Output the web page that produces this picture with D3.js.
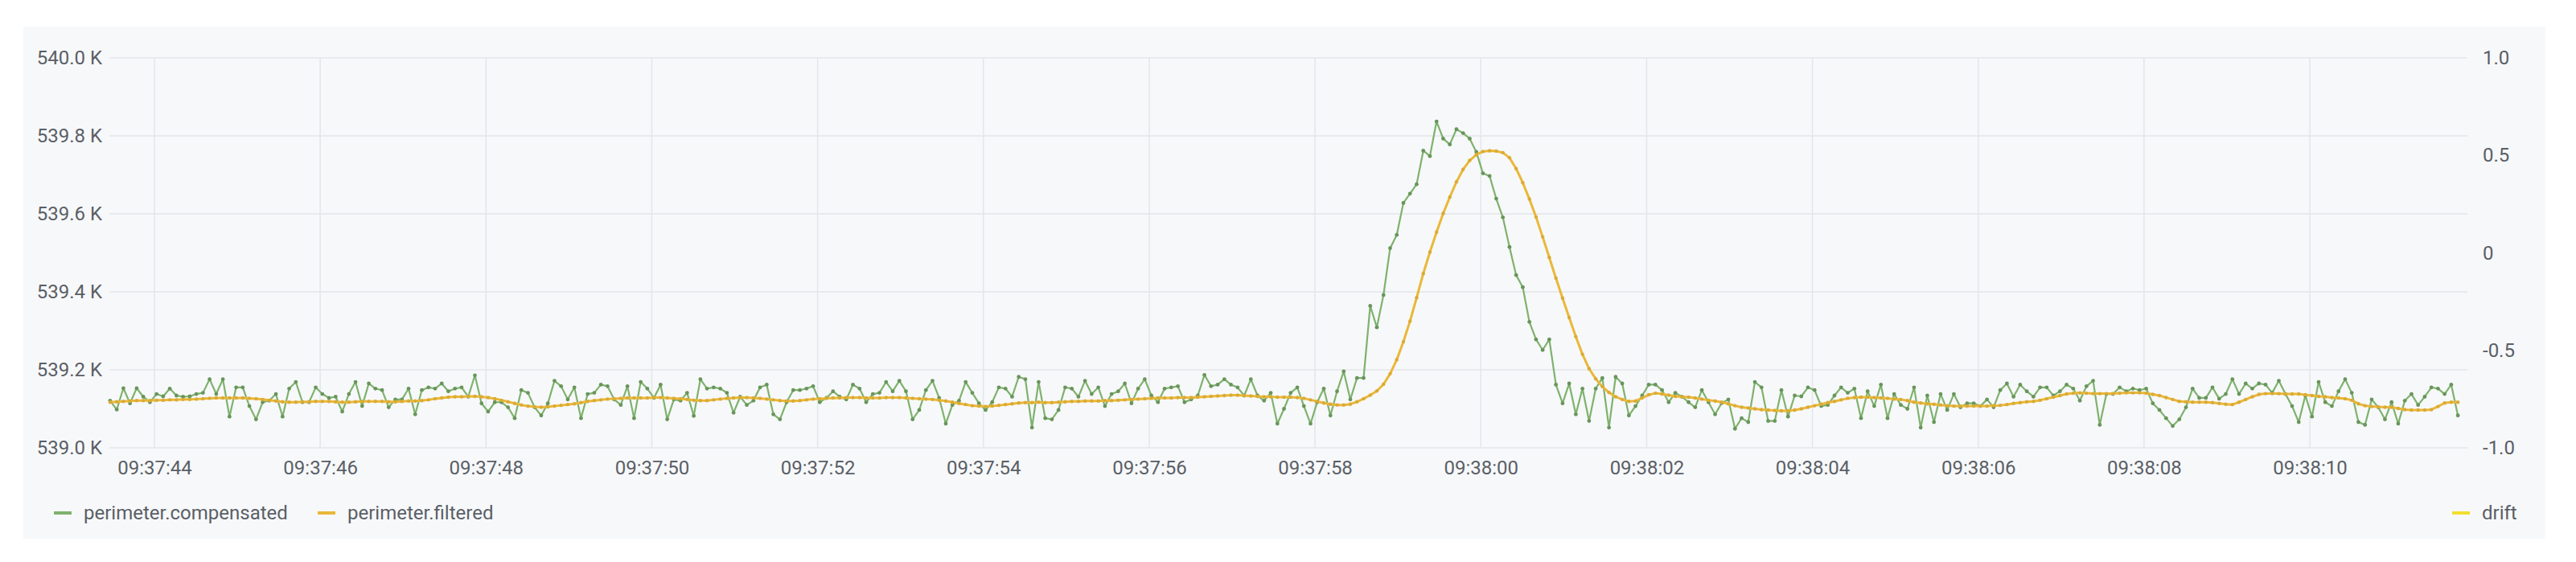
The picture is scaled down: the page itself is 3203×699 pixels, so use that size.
<!DOCTYPE html>
<html>
<head>
<meta charset="utf-8">
<script src="https://cdn.jsdelivr.net/npm/d3@7"></script>
<style>
    html, body { margin: 0; padding: 0; background: #ffffff; }
    svg text { font-family: Roboto, "Helvetica Neue", Arial, sans-serif; font-size: 24px; fill: #5a5f66; }
</style>
</head>
<body>
<div id="chart-container"></div>
<script>
// series samples (K), one every 80 ms starting 09:37:43.466
const startTime = new Date(2024, 0, 1, 9, 37, 43, 466);
const sampleMs = 80;

const compensated = [
    539.121, 539.098, 539.153, 539.114, 539.153, 539.131, 539.117, 539.138, 539.132, 539.152,
    539.134, 539.131, 539.132, 539.138, 539.141, 539.176, 539.138, 539.176, 539.080, 539.155,
    539.155, 539.107, 539.073, 539.117, 539.121, 539.138, 539.080, 539.152, 539.169, 539.117,
    539.117, 539.155, 539.138, 539.128, 539.131, 539.093, 539.138, 539.169, 539.107, 539.165,
    539.152, 539.148, 539.104, 539.124, 539.124, 539.152, 539.086, 539.148, 539.155, 539.152,
    539.165, 539.145, 539.152, 539.155, 539.131, 539.186, 539.114, 539.093, 539.117, 539.117,
    539.104, 539.076, 539.148, 539.141, 539.104, 539.083, 539.114, 539.172, 539.158, 539.124,
    539.155, 539.076, 539.138, 539.141, 539.162, 539.158, 539.124, 539.110, 539.158, 539.076,
    539.169, 539.152, 539.128, 539.162, 539.073, 539.124, 539.121, 539.141, 539.082, 539.176,
    539.152, 539.155, 539.152, 539.141, 539.090, 539.131, 539.110, 539.121, 539.155, 539.162,
    539.086, 539.073, 539.117, 539.148, 539.148, 539.152, 539.158, 539.117, 539.128, 539.145,
    539.131, 539.124, 539.162, 539.152, 539.117, 539.138, 539.141, 539.169, 539.145, 539.172,
    539.145, 539.073, 539.097, 539.148, 539.172, 539.128, 539.062, 539.110, 539.121, 539.169,
    539.141, 539.114, 539.097, 539.117, 539.155, 539.152, 539.131, 539.182, 539.176, 539.052,
    539.169, 539.076, 539.073, 539.097, 539.155, 539.152, 539.131, 539.172, 539.138, 539.155,
    539.107, 539.138, 539.145, 539.165, 539.114, 539.152, 539.176, 539.134, 539.117, 539.152,
    539.155, 539.158, 539.117, 539.124, 539.134, 539.187, 539.158, 539.162, 539.176, 539.162,
    539.155, 539.134, 539.176, 539.134, 539.121, 539.141, 539.062, 539.100, 539.141, 539.155,
    539.107, 539.062, 539.117, 539.152, 539.083, 539.145, 539.196, 539.124, 539.179, 539.179,
    539.364, 539.309, 539.392, 539.512, 539.546, 539.628, 539.652, 539.676, 539.762, 539.748,
    539.837, 539.793, 539.778, 539.817, 539.807, 539.793, 539.759, 539.704, 539.697, 539.639,
    539.591, 539.515, 539.443, 539.412, 539.323, 539.278, 539.251, 539.278, 539.162, 539.114,
    539.165, 539.086, 539.152, 539.069, 539.152, 539.179, 539.052, 539.182, 539.165, 539.083,
    539.107, 539.134, 539.162, 539.162, 539.148, 539.117, 539.141, 539.131, 539.117, 539.104,
    539.148, 539.117, 539.086, 539.115, 539.124, 539.049, 539.076, 539.066, 539.169, 539.155,
    539.069, 539.069, 539.148, 539.080, 539.134, 539.132, 539.155, 539.148, 539.107, 539.110,
    539.134, 539.155, 539.141, 539.152, 539.076, 539.145, 539.107, 539.162, 539.076, 539.138,
    539.110, 539.100, 539.155, 539.052, 539.134, 539.066, 539.138, 539.097, 539.138, 539.104,
    539.114, 539.114, 539.107, 539.124, 539.104, 539.148, 539.165, 539.131, 539.162, 539.145,
    539.131, 539.155, 539.155, 539.134, 539.145, 539.162, 539.152, 539.121, 539.158, 539.172,
    539.059, 539.138, 539.138, 539.155, 539.145, 539.152, 539.148, 539.152, 539.114, 539.097,
    539.076, 539.056, 539.073, 539.104, 539.152, 539.128, 539.128, 539.155, 539.126, 539.138,
    539.176, 539.138, 539.165, 539.152, 539.165, 539.162, 539.141, 539.172, 539.138, 539.107,
    539.066, 539.134, 539.080, 539.169, 539.117, 539.107, 539.145, 539.176, 539.141, 539.066,
    539.059, 539.124, 539.104, 539.073, 539.117, 539.062, 539.121, 539.138, 539.110, 539.131,
    539.155, 539.152, 539.138, 539.162, 539.083
];

const filtered = [
    539.117, 539.118, 539.119, 539.120, 539.121, 539.121, 539.121, 539.122, 539.122, 539.123,
    539.123, 539.124, 539.124, 539.125, 539.126, 539.127, 539.128, 539.128, 539.128, 539.128,
    539.128, 539.127, 539.126, 539.124, 539.122, 539.120, 539.118, 539.117, 539.117, 539.118,
    539.118, 539.119, 539.119, 539.119, 539.118, 539.117, 539.117, 539.118, 539.119, 539.119,
    539.119, 539.119, 539.118, 539.118, 539.119, 539.120, 539.120, 539.121, 539.123, 539.126,
    539.128, 539.130, 539.131, 539.131, 539.132, 539.132, 539.131, 539.129, 539.126, 539.122,
    539.118, 539.114, 539.110, 539.107, 539.105, 539.104, 539.105, 539.107, 539.109, 539.111,
    539.113, 539.116, 539.119, 539.121, 539.123, 539.125, 539.126, 539.127, 539.128, 539.128,
    539.128, 539.128, 539.129, 539.129, 539.128, 539.127, 539.126, 539.124, 539.122, 539.121,
    539.121, 539.123, 539.125, 539.127, 539.128, 539.129, 539.129, 539.128, 539.127, 539.125,
    539.123, 539.121, 539.120, 539.120, 539.121, 539.123, 539.125, 539.126, 539.127, 539.128,
    539.128, 539.129, 539.129, 539.129, 539.128, 539.128, 539.128, 539.129, 539.129, 539.129,
    539.128, 539.127, 539.126, 539.125, 539.124, 539.122, 539.120, 539.117, 539.114, 539.111,
    539.108, 539.107, 539.106, 539.107, 539.109, 539.111, 539.113, 539.115, 539.116, 539.116,
    539.117, 539.116, 539.116, 539.117, 539.118, 539.119, 539.119, 539.120, 539.120, 539.120,
    539.121, 539.121, 539.122, 539.123, 539.124, 539.125, 539.126, 539.127, 539.128, 539.128,
    539.128, 539.129, 539.129, 539.129, 539.130, 539.131, 539.132, 539.133, 539.134, 539.135,
    539.135, 539.134, 539.133, 539.132, 539.131, 539.131, 539.130, 539.130, 539.130, 539.129,
    539.127, 539.123, 539.119, 539.115, 539.112, 539.110, 539.110, 539.112, 539.118, 539.126,
    539.135, 539.146, 539.163, 539.190, 539.226, 539.272, 539.325, 539.385, 539.447, 539.502,
    539.553, 539.601, 539.643, 539.682, 539.714, 539.737, 539.752, 539.760, 539.762, 539.761,
    539.757, 539.744, 539.716, 539.680, 539.638, 539.592, 539.541, 539.488, 539.435, 539.384,
    539.334, 539.285, 539.240, 539.203, 539.177, 539.157, 539.142, 539.131, 539.124, 539.119,
    539.120, 539.128, 539.136, 539.140, 539.138, 539.135, 539.132, 539.131, 539.130, 539.128,
    539.125, 539.122, 539.120, 539.117, 539.113, 539.108, 539.104, 539.102, 539.100, 539.098,
    539.097, 539.096, 539.095, 539.095, 539.097, 539.100, 539.104, 539.108, 539.112, 539.116,
    539.119, 539.123, 539.127, 539.129, 539.130, 539.130, 539.129, 539.128, 539.127, 539.125,
    539.124, 539.121, 539.117, 539.115, 539.113, 539.112, 539.110, 539.108, 539.107, 539.107,
    539.107, 539.107, 539.107, 539.107, 539.108, 539.109, 539.111, 539.114, 539.116, 539.118,
    539.119, 539.122, 539.126, 539.130, 539.134, 539.138, 539.140, 539.141, 539.140, 539.139,
    539.139, 539.139, 539.139, 539.140, 539.141, 539.141, 539.141, 539.140, 539.137, 539.134,
    539.129, 539.124, 539.119, 539.118, 539.117, 539.117, 539.117, 539.116, 539.114, 539.112,
    539.111, 539.117, 539.124, 539.131, 539.137, 539.139, 539.139, 539.139, 539.138, 539.138,
    539.138, 539.136, 539.134, 539.132, 539.131, 539.129, 539.128, 539.126, 539.122, 539.113,
    539.108, 539.106, 539.105, 539.104, 539.104, 539.101, 539.098, 539.097, 539.097, 539.097,
    539.098, 539.106, 539.115, 539.117, 539.117
];

const drift = []; // right-axis series, no visible samples

const leftTicks = [539.0, 539.2, 539.4, 539.6, 539.8, 540.0];
const rightTicks = [-1, -0.5, 0, 0.5, 1];
const rightTickLabels = ["-1.0", "-0.5", "0", "0.5", "1.0"];
const seriesNames = ["perimeter.compensated", "perimeter.filtered", "drift"];
const seriesColors = ["#7eb26d", "#eab839", "#f2de2e"];

class TimeSeriesPanel {
    constructor() {
        this.container = d3.select("#chart-container");
        this.width = 3203;
        this.height = 699;
        this.plot = {left: 136, right: 3068, top: 72, bottom: 557};

        this.init();
        this.render();
    }

    init() {
        this.svg = this.container.append("svg")
            .attr("width", this.width)
            .attr("height", this.height);

        // panel background
        this.svg.append("rect")
            .attr("x", 29)
            .attr("y", 33)
            .attr("width", 3136)
            .attr("height", 637)
            .attr("fill", "#f7f8fa");

        this.xScale = d3.scaleTime()
            .domain([new Date(2024, 0, 1, 9, 37, 43, 457), new Date(2024, 0, 1, 9, 38, 11, 901)])
            .range([this.plot.left, this.plot.right]);

        this.yScale = d3.scaleLinear()
            .domain([539.0, 540.0])
            .range([this.plot.bottom, this.plot.top]);

        this.y2Scale = d3.scaleLinear()
            .domain([-1, 1])
            .range([this.plot.bottom, this.plot.top]);
    }

    render() {
        const p = this.plot;
        const xTicks = this.xScale.ticks(d3.timeSecond.every(2));

        // grid
        const grid = this.svg.append("g").attr("class", "grid");
        grid.selectAll(".hgrid")
            .data(leftTicks)
            .enter().append("line")
            .attr("x1", p.left)
            .attr("x2", p.right)
            .attr("y1", d => this.yScale(d))
            .attr("y2", d => this.yScale(d))
            .attr("stroke", "#e3e6ea")
            .attr("stroke-width", 1.5);
        grid.selectAll(".vgrid")
            .data(xTicks)
            .enter().append("line")
            .attr("x1", d => this.xScale(d))
            .attr("x2", d => this.xScale(d))
            .attr("y1", p.top)
            .attr("y2", p.bottom)
            .attr("stroke", "#e3e6ea")
            .attr("stroke-width", 1.5);

        // axes
        const xAxis = this.svg.append("g")
            .attr("transform", `translate(0,${p.bottom})`)
            .call(d3.axisBottom(this.xScale)
                .tickValues(xTicks)
                .tickSize(0)
                .tickPadding(16)
                .tickFormat(d3.timeFormat("%H:%M:%S")));

        const yAxis = this.svg.append("g")
            .attr("transform", `translate(${p.left},0)`)
            .call(d3.axisLeft(this.yScale)
                .tickValues(leftTicks)
                .tickSize(0)
                .tickPadding(9)
                .tickFormat(d => d.toFixed(1) + " K"));

        const y2Axis = this.svg.append("g")
            .attr("transform", `translate(${p.right},0)`)
            .call(d3.axisRight(this.y2Scale)
                .tickValues(rightTicks)
                .tickSize(0)
                .tickPadding(19)
                .tickFormat((d, i) => rightTickLabels[i]));

        [xAxis, yAxis, y2Axis].forEach(a => {
            a.select(".domain").remove();
            a.selectAll("text").attr("fill", "#5a5f66").style("font-size", "24px");
        });

        // series
        const toPoints = values => values.map((v, i) => ({
            t: new Date(+startTime + i * sampleMs),
            v: v
        }));

        const line = d3.line()
            .x(d => this.xScale(d.t))
            .y(d => this.yScale(d.v));

        const series = [
            {name: seriesNames[0], color: seriesColors[0], data: toPoints(compensated), width: 2.2, r: 2.4, dark: 0.5},
            {name: seriesNames[1], color: seriesColors[1], data: toPoints(filtered), width: 3, r: 2.2, dark: 0.2}
        ];

        series.forEach(s => {
            const g = this.svg.append("g").attr("class", "series");
            g.append("path")
                .datum(s.data)
                .attr("fill", "none")
                .attr("stroke", s.color)
                .attr("stroke-width", s.width)
                .attr("stroke-linejoin", "round")
                .attr("d", line);
            g.selectAll("circle")
                .data(s.data)
                .enter().append("circle")
                .attr("cx", d => this.xScale(d.t))
                .attr("cy", d => this.yScale(d.v))
                .attr("r", s.r)
                .attr("fill", d3.color(s.color).darker(s.dark));
        });

        // legend
        const legendY = 638;
        const legendItems = [
            {name: seriesNames[0], color: seriesColors[0], x: 67},
            {name: seriesNames[1], color: seriesColors[1], x: 395},
            {name: seriesNames[2], color: seriesColors[2], x: 3049}
        ];
        const legend = this.svg.append("g").attr("class", "legend");
        legendItems.forEach(item => {
            legend.append("line")
                .attr("x1", item.x)
                .attr("x2", item.x + 22)
                .attr("y1", legendY)
                .attr("y2", legendY)
                .attr("stroke", item.color)
                .attr("stroke-width", 4);
            legend.append("text")
                .attr("x", item.x + 37)
                .attr("y", legendY)
                .attr("dy", "0.35em")
                .text(item.name);
        });
    }
}

new TimeSeriesPanel();
</script>
</body>
</html>
